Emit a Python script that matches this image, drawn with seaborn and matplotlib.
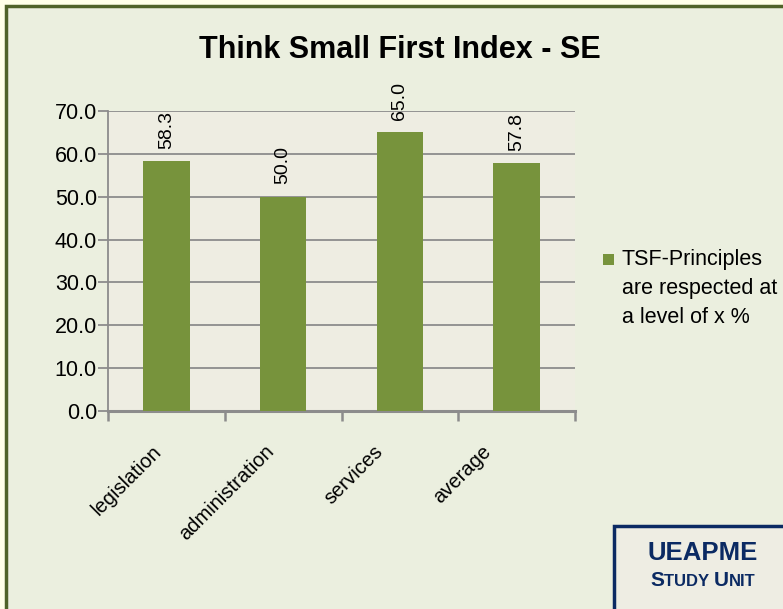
import matplotlib
matplotlib.use("Agg")
import matplotlib.pyplot as plt
import seaborn as sns
import pandas as pd
from matplotlib.patches import Rectangle
from matplotlib.transforms import ScaledTranslation

categories = ["legislation", "administration", "services", "average"]
values = [58.3, 50.0, 65.0, 57.8]
yticks = [0, 10, 20, 30, 40, 50, 60, 70]
legend_label = "TSF-Principles\nare respected at\na level of x %"
title = "Think Small First Index - SE"

sns.set_theme(style="white")
plt.rcParams["font.family"] = ["Liberation Sans", "DejaVu Sans"]
plt.rcParams["text.color"] = "black"
plt.rcParams["xtick.color"] = "black"
plt.rcParams["ytick.color"] = "black"

bg = "#EBEFDF"
plot_bg = "#EEEDE2"
bar_color = "#77933C"
grid_color = "#8C8C8C"
navy = "#0B2A63"

fig = plt.figure(figsize=(7.83, 6.09), dpi=100)
fig.patch.set_facecolor("#FFFFE8")
# green background with dark olive frame
fig.patches.append(Rectangle((6 / 783, -0.05), 1.1, (609 - 5.5) / 609 + 0.05,
                             transform=fig.transFigure, facecolor=bg,
                             edgecolor="#4F6228", linewidth=2.5, zorder=-5))

ax = fig.add_axes([108 / 783, (609 - 411) / 609, (575 - 108) / 783, 300 / 609])
ax.set_zorder(1)
ax.set_facecolor(plot_bg)

df = pd.DataFrame({"category": categories, "value": values})
sns.barplot(data=df, x="category", y="value", color=bar_color, width=0.4,
            saturation=1, ax=ax, zorder=3, linewidth=0)

ax.set_ylim(0, 70)
ax.set_xlim(-0.5, 3.5)
ax.set_yticks(yticks)
ax.set_yticklabels([f"{t:.1f}" for t in yticks], fontsize=15.5)
ax.yaxis.grid(True, color=grid_color, linewidth=1.3, zorder=0)
ax.set_axisbelow(True)
ax.tick_params(axis="y", length=7, width=1.3, color=grid_color, pad=1, left=True)
ax.set_xticks(range(len(categories)))
ax.set_xticklabels(categories, rotation=45, ha="right", va="center",
                   rotation_mode="anchor", fontsize=14.5)
ax.tick_params(axis="x", length=0, pad=27)
label_shift_px = [-8, -12, -20, -29]
for lab, dx in zip(ax.get_xticklabels(), label_shift_px):
    lab.set_transform(lab.get_transform() + ScaledTranslation(dx / 100, 0, fig.dpi_scale_trans))
ax.set_xticks([i - 0.5 for i in range(len(categories) + 1)], minor=True)
ax.tick_params(axis="x", which="minor", length=7, width=1.8, color=grid_color, bottom=True)
ax.set_xlabel("")
ax.set_ylabel("")
for s in ["top", "right"]:
    ax.spines[s].set_visible(False)
ax.spines["left"].set_color(grid_color)
ax.spines["left"].set_linewidth(1.3)
ax.spines["bottom"].set_color(grid_color)
ax.spines["bottom"].set_linewidth(2.2)

for cont in ax.containers:
    ax.bar_label(cont, labels=[f"{v:.1f}" for v in values], rotation=90,
                 padding=9, fontsize=14, clip_on=False)

fig.text(400 / 783, 1 - 50 / 609, title, ha="center", va="center",
         fontsize=22, fontweight="bold")

# legend
fig.patches.append(Rectangle((603 / 783, 1 - 265 / 609), 11 / 783, 11 / 609,
                             transform=fig.transFigure, facecolor=bar_color,
                             edgecolor="none"))
fig.text(622 / 783, 1 - 249 / 609, legend_label, ha="left", va="top",
         fontsize=15.5, linespacing=1.5)

# UEAPME box
fig.patches.append(Rectangle((614 / 783, -0.05), 0.3, (609 - 526) / 609 + 0.05,
                             transform=fig.transFigure, facecolor="#EEEDE3",
                             edgecolor=navy, linewidth=2.5, zorder=2))
fig.text(703 / 783, 1 - 553 / 609, "UEAPME", ha="center", va="center",
         fontsize=18.5, fontweight="bold", color=navy, zorder=3)

# small caps "STUDY UNIT"
pieces = [("S", 15), ("TUDY ", 12), ("U", 15), ("NIT", 12)]
renderer = fig.canvas.get_renderer()
widths = []
tmp = []
for s, fs in pieces:
    t = fig.text(0, 0, s, fontsize=fs, fontweight="bold")
    bb = t.get_window_extent(renderer)
    widths.append(bb.width)
    tmp.append(t)
for t in tmp:
    t.remove()
total = sum(widths)
x = 703 - total / 2
for (s, fs), w in zip(pieces, widths):
    fig.text(x / 783, 1 - 586 / 609, s, ha="left", va="baseline",
             fontsize=fs, fontweight="bold", color=navy, zorder=3)
    x += w

fig.savefig("out.png", dpi=100, facecolor=fig.get_facecolor())
